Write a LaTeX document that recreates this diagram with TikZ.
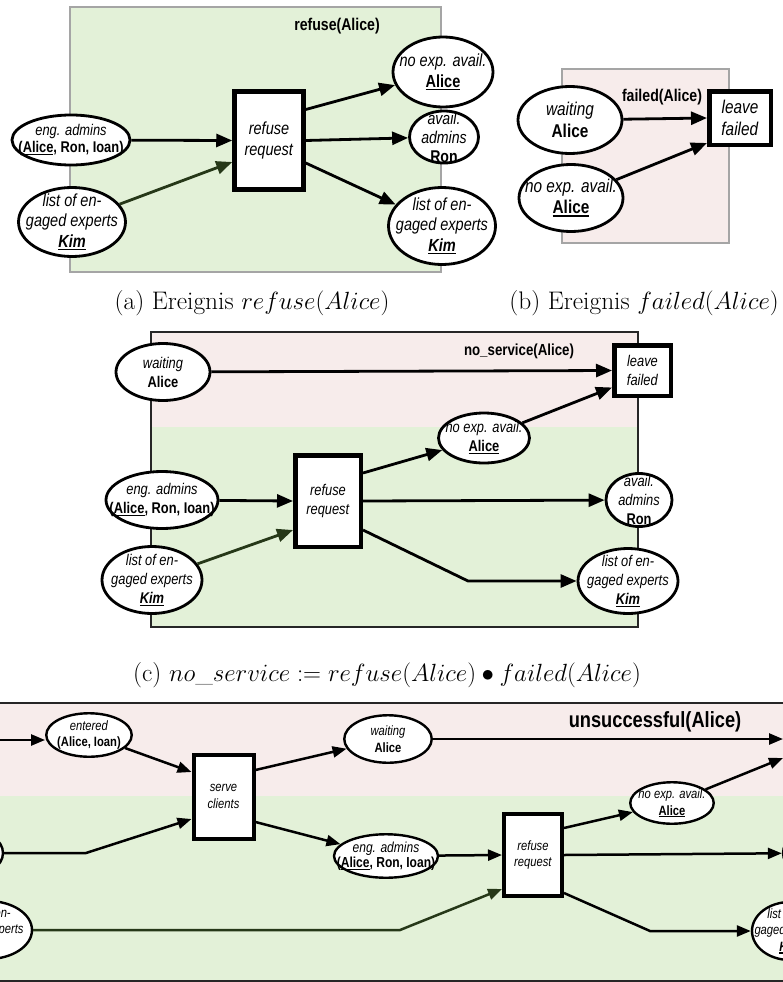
\documentclass[tikz,border=0pt]{standalone}
\usepackage{fontspec}
\usetikzlibrary{shapes.geometric,arrows.meta}
\newfontfamily\nf{Liberation Sans}[FakeStretch=0.83]
\definecolor{gfill}{RGB}{227,241,216}
\definecolor{pfill}{RGB}{247,236,235}
\definecolor{darr}{RGB}{38,56,24}
\definecolor{lgray}{RGB}{165,165,165}
\newcommand\myul[1]{\setbox0\hbox{#1}\rlap{\copy0}\rule[-0.17em]{\wd0}{0.09em}}
\tikzset{
  place/.style={ellipse, draw=black, line width=2.8pt, fill=white, inner sep=0pt},
  placed/.style={ellipse, draw=black, line width=2.4pt, fill=white, inner sep=0pt},
  trans/.style={rectangle, draw=black, line width=4.5pt, fill=white, inner sep=0pt},
  transd/.style={rectangle, draw=black, line width=4pt, fill=white, inner sep=0pt},
  la/.style={align=center, inner sep=0pt, font=\nf\fontsize{17.5}{20.5}\selectfont},
  las/.style={align=center, inner sep=0pt, font=\nf\fontsize{15.5}{17.5}\selectfont},
  lar/.style={align=center, inner sep=0pt, font=\nf\fontsize{17}{19}\selectfont},
  lb/.style={align=center, inner sep=0pt, font=\nf\fontsize{18.5}{21.5}\selectfont},
  lc/.style={align=center, inner sep=0pt, font=\nf\fontsize{15.5}{19}\selectfont},
  ld/.style={align=center, inner sep=0pt, font=\nf\fontsize{13.5}{16.5}\selectfont},
  ldb/.style={align=center, inner sep=0pt, font=\nf\fontsize{14.5}{15.5}\selectfont},
  tab/.style={inner sep=0pt, font=\nf\bfseries\fontsize{17}{20}\selectfont},
  tc/.style={inner sep=0pt, font=\nf\bfseries\fontsize{16}{19}\selectfont},
  td/.style={inner sep=0pt, font=\nf\bfseries\fontsize{22}{26}\selectfont},
  captxt/.style={inner sep=0pt, font=\fontsize{25.4}{30}\selectfont},
  arr/.style={line width=2.8pt, -{Triangle[length=16pt,width=13pt]}},
  arrd/.style={line width=2.5pt, -{Triangle[length=14pt,width=11pt]}},
  gbox/.style={fill=gfill, draw=lgray, line width=1.5pt},
  pbox/.style={fill=pfill, draw=lgray, line width=1.5pt},
  cbord/.style={draw=black!85, line width=1.4pt},
}
\begin{document}
\begin{tikzpicture}[x=1pt,y=-1pt]
\useasboundingbox (0,0) rectangle (783,982);
\clip (0,0) rectangle (783,982);

% ---------------- (a) ----------------
\draw[gbox] (70,7) rectangle (441,272);
\node[tab] (ttla) at (337,26) {refuse(Alice)};
\node[place, minimum width=118pt, minimum height=50pt] (a1) at (71,140) {};
\node[las] (a1t) at (a1) {\textit{eng. admins}\\\textbf{(\myul{Alice}, Ron, Ioan)}};
\node[place, minimum width=107pt, minimum height=69pt] (a2) at (72,222) {};
\node[la] (a2t) at (a2) {\textit{list of en-}\\\textit{gaged experts}\\\myul{\textbf{\textit{Kim}}}};
\node[trans, la, minimum width=69pt, minimum height=98pt] (a3) at (269,140.5) {\textit{refuse}\\\textit{request}};
\node[place, minimum width=100pt, minimum height=70pt] (a4) at (443,72) {};
\node[la] (a4t) at (a4) {\textit{no exp. avail.}\\\textbf{\myul{Alice}}};
\node[place, minimum width=69pt, minimum height=52pt] (a5) at (444,137) {};
\node[lar] (a5t) at (a5) {\textit{avail.}\\\textit{admins}\\\textbf{Ron}};
\node[place, minimum width=107pt, minimum height=77pt] (a6) at (442,226) {};
\node[la] (a6t) at (a6) {\textit{list of en-}\\\textit{gaged experts}\\\myul{\textbf{\textit{Kim}}}};
\draw[arr] (a1) -- (a3.west);
\draw[arr, color=darr] (a2) -- ([yshift=-21.5pt]a3.west);
\draw[arr] ([yshift=31pt]a3.east) -- (a4);
\draw[arr] (a3.east) -- (a5);
\draw[arr] ([yshift=-22.5pt]a3.east) -- (a6);

% ---------------- (b) ----------------
\draw[pbox] (562,69) rectangle (729,243);
\node[tab] (ttlb) at (662,97) {failed(Alice)};
\node[place, minimum width=104pt, minimum height=67pt] (b1) at (570,120) {};
\node[lb] (b1t) at (b1) {\textit{waiting}\\\textbf{Alice}};
\node[place, minimum width=104pt, minimum height=67pt] (b2) at (571,198) {};
\node[lb] (b2t) at (b2) {\textit{no exp. avail.}\\\textbf{\myul{Alice}}};
\node[trans, lb, minimum width=61.5pt, minimum height=53.5pt] (b3) at (740,118) {\textit{leave}\\\textit{failed}};
\draw[arr] (b1) -- (b3.west);
\draw[arr] (b2) -- ([yshift=-25pt]b3.west);

% captions
\node[captxt] (capa) at (252,303) {(a) Ereignis $refuse(Alice)$};
\node[captxt] (capb) at (644,303) {(b) Ereignis $failed(Alice)$};

% ---------------- (c) ----------------
\fill[pfill] (151,332) rectangle (638,427);
\fill[gfill] (151,427) rectangle (638,627);
\draw[cbord] (151,332) rectangle (638,627);
\node[tc] (ttlc) at (519,351) {no\_service(Alice)};
\node[place, minimum width=94pt, minimum height=57pt] (c1) at (163,372) {};
\node[lc] (c1t) at (c1) {\textit{waiting}\\\textbf{Alice}};
\node[place, minimum width=112pt, minimum height=57pt] (c2) at (162,500) {};
\node[lc] (c2t) at (c2) {\textit{eng. admins}\\\textbf{(\myul{Alice}, Ron, Ioan)}};
\node[place, minimum width=100pt, minimum height=67pt] (c3) at (152,580) {};
\node[lc] (c3t) at (c3) {\textit{list of en-}\\\textit{gaged experts}\\\myul{\textbf{\textit{Kim}}}};
\node[trans, lc, minimum width=65.5pt, minimum height=91.5pt] (c4) at (328,501) {\textit{refuse}\\\textit{request}};
\node[place, minimum width=91pt, minimum height=50pt] (c5) at (484,438) {};
\node[lc] (c5t) at (c5) {\textit{no exp. avail.}\\\textbf{\myul{Alice}}};
\node[place, minimum width=66pt, minimum height=53pt] (c6) at (639,500) {};
\node[lc] (c6t) at (c6) {\textit{avail.}\\\textit{admins}\\\textbf{Ron}};
\node[place, minimum width=100pt, minimum height=65pt] (c7) at (628,581) {};
\node[lc] (c7t) at (c7) {\textit{list of en-}\\\textit{gaged experts}\\\myul{\textbf{\textit{Kim}}}};
\node[trans, lc, minimum width=56.5pt, minimum height=50.5pt] (c8) at (642.5,370.5) {\textit{leave}\\\textit{failed}};
\coordinate (cb) at (468,581);
\draw[arr] (c1) -- (c8.west);
\draw[arr] (c2) -- (c4.west);
\draw[arr, color=darr] (c3) -- ([yshift=-29pt]c4.west);
\draw[arr] ([yshift=28pt]c4.east) -- (c5);
\draw[arr] (c4.east) -- (c6);
\draw[arr] ([yshift=-29pt]c4.east) -- (cb) -- (c7.west);
\draw[arr] (c5) -- ([yshift=-17pt]c8.west);

\node[captxt] (capc) at (387,675) {(c) $no\_service := refuse(Alice) \bullet failed(Alice)$};

% ---------------- (d) ----------------
\fill[pfill] (-20,703) rectangle (803,796);
\fill[gfill] (-20,796) rectangle (803,981);
\draw[cbord] (-20,703) rectangle (803,981);
\node[td] (ttld) at (655,722) {unsuccessful(Alice)};
\coordinate (d0) at (-20,740);
\node[placed, minimum width=85.5pt, minimum height=43.5pt] (d1) at (89,735) {};
\node[ld] (d1t) at (d1) {\textit{entered}\\\textbf{(Alice, Ioan)}};
\node[placed, minimum width=66pt, minimum height=46pt] (d2) at (-30,853) {};
\node[placed, minimum width=88pt, minimum height=58pt] (d3) at (-12,930) {};
\node[ld] (d3t) at (d3) {\textit{list of en-}\\\textit{gaged experts}\\\myul{\textbf{\textit{Kim}}}};
\node[transd, ld, minimum width=60pt, minimum height=84pt] (d4) at (223.5,796.5) {\textit{serve}\\\textit{clients}};
\node[placed, minimum width=87.5pt, minimum height=47.5pt] (d5) at (388,739) {};
\node[ld] (d5t) at (d5) {\textit{waiting}\\\textbf{Alice}};
\node[placed, minimum width=104pt, minimum height=43.5pt] (d6) at (386,856) {};
\node[ldb] (d6t) at (d6) {\textit{eng. admins}\\\textbf{(\myul{Alice}, Ron, Ioan)}};
\node[transd, ld, minimum width=58pt, minimum height=82pt] (d7) at (533,855) {\textit{refuse}\\\textit{request}};
\node[placed, minimum width=83.5pt, minimum height=41.5pt] (d8) at (672,803) {};
\node[ld] (d8t) at (d8) {\textit{no exp. avail.}\\\textbf{\myul{Alice}}};
\node[transd, ld, minimum width=58pt, minimum height=52pt] (d9) at (814,745) {\textit{leave}\\\textit{failed}};
\node[placed, minimum width=70pt, minimum height=48pt] (d10) at (818,853) {};
\node[ld] (d10t) at (d10) {\textit{avail.}\\\textit{admins}\\\textbf{Ron}};
\node[placed, minimum width=76pt, minimum height=58pt] (d11) at (790,931) {};
\node[ld] (d11t) at (d11) {\textit{list of en-}\\\textit{gaged experts}\\\myul{\textbf{\textit{Kim}}}};
\coordinate (db1) at (86,853);
\coordinate (db2) at (400,930);
\coordinate (db3) at (650,931);
\draw[arrd] (d0) -- (d0 -| d1.west);
\draw[arrd] (d1) -- ([yshift=24.5pt]d4.west);
\draw[arrd] (d2) -- (db1) -- ([yshift=-22.5pt]d4.west);
\draw[arrd] ([yshift=26.5pt]d4.east) -- (d5);
\draw[arrd] ([yshift=-25.5pt]d4.east) -- (d6);
\draw[arrd, color=darr] (d3) -- (db2) -- ([yshift=-34pt]d7.west);
\draw[arrd] (d5.east) -- (d5.east -| d9.west);
\draw[arrd] (d6) -- (d7.west);
\draw[arrd] ([yshift=27pt]d7.east) -- (d8);
\draw[arrd] (d7.east) -- (d10);
\draw[arrd] ([yshift=-38pt]d7.east) -- (db3) -- (d11.west);
\draw[arrd] (d8) -- ([yshift=-13pt]d9.west);
\end{tikzpicture}
\end{document}
